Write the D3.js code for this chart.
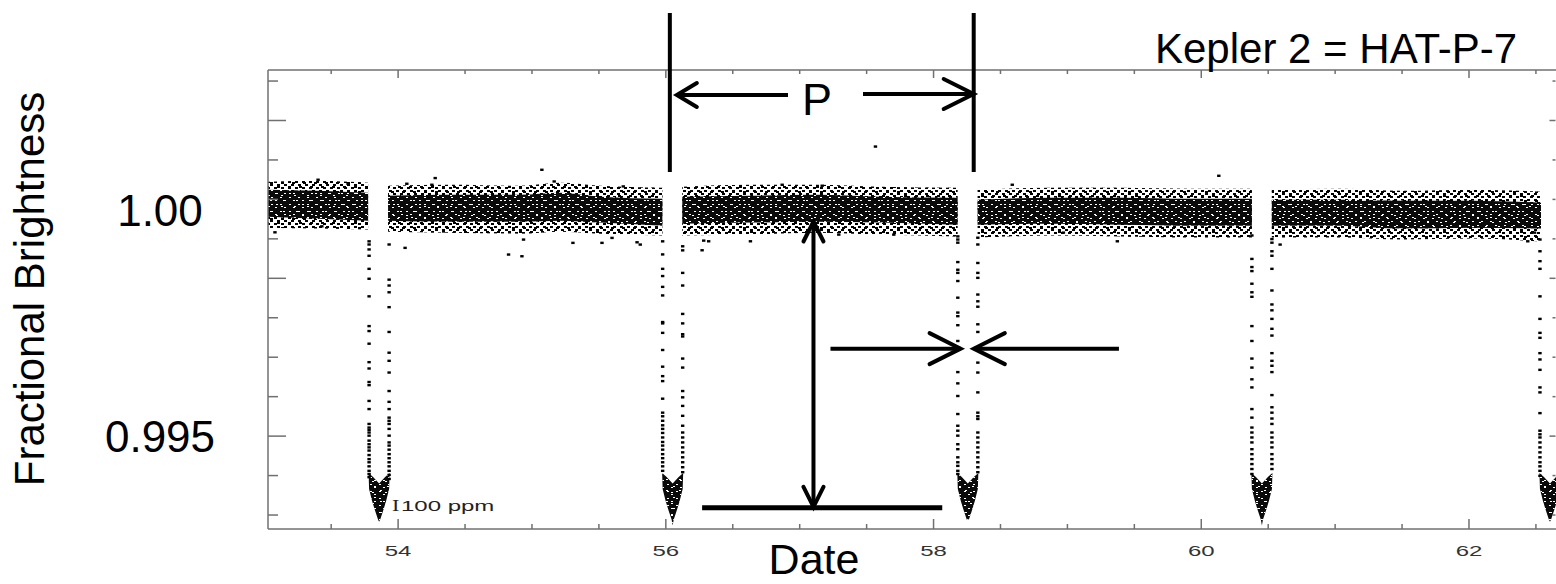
<!DOCTYPE html>
<html>
<head>
<meta charset="utf-8">
<script src="https://cdn.jsdelivr.net/npm/d3@7/dist/d3.min.js"></script>
<style>
  html, body { margin: 0; padding: 0; background: #fff; }
  svg { display: block; font-family: "Liberation Sans", Arial, sans-serif; }
</style>
</head>
<body>
<svg id="chart" width="1556" height="584"></svg>
<script>
// ---- Kepler light curve of HAT-P-7 (dates in days, brightness as relative flux) ----
const xDomain = [53.028, 62.65];
const yDomain = [0.99294, 1.00312];

const dateTicksMajor = [54, 56, 58, 60, 62];
const dateTickLabels = ["54", "56", "58", "60", "62"];
const dateTicksMinor = [53.5, 54.5, 55, 55.5, 56.5, 57, 57.5, 58.5, 59, 59.5, 60.5, 61, 61.5, 62.5];
const fluxTicksMajor = [0.995, 0.9985, 1.002];
const fluxTicksMinor = [0.99325, 0.994125, 0.995875, 0.99675, 0.997625, 0.999375, 1.00025, 1.001125, 1.002875];
const fluxLabelValues = [1.0, 0.995];
const fluxLabels = ["1.00", "0.995"];

// Out-of-transit stretches: envelope of the dense core and of the sparse scatter (ppm relative to 1)
const bandDates = [
  [53.028, 53.40, 53.776],
  [53.925, 54.39, 54.91, 55.21, 55.51, 55.974],
  [56.123, 56.63, 57.12, 57.60, 58.18],
  [58.329, 58.87, 59.40, 59.92, 60.378],
  [60.527, 61.04, 61.50, 62.02, 62.538]
];
const bandCoreTop = [
  [465, 442, 398],
  [332, 354, 354, 398, 310, 265],
  [310, 332, 354, 310, 288],
  [243, 288, 288, 265, 265],
  [243, 243, 221, 221, 177]
];
const bandCoreBottom = [
  [-133, -177, -221],
  [-221, -243, -243, -221, -265, -332],
  [-288, -265, -243, -265, -310],
  [-310, -288, -310, -332, -332],
  [-332, -332, -398, -376, -398]
];
const bandHaloTop = [
  [641, 664, 619],
  [553, 575, 553, 619, 553, 509],
  [531, 575, 575, 531, 509],
  [465, 509, 509, 487, 487],
  [465, 487, 442, 465, 420]
];
const bandHaloBottom = [
  [-376, -398, -420],
  [-465, -487, -509, -465, -509, -553],
  [-553, -531, -487, -531, -575],
  [-597, -553, -575, -597, -597],
  [-597, -597, -641, -619, -686]
];

// Isolated points away from the band: [date, ppm]
const strayPoints = [
  [53.402, 686], [53.626, 597], [53.080, -480], [53.430, -347],
  [54.065, 597], [54.277, 723], [54.252, 575], [55.074, 907], [55.166, 648], [55.682, 538],
  [54.052, -825], [54.825, -973], [54.925, -1011], [54.937, -641], [55.306, -714],
  [55.523, -714], [55.598, -604], [55.785, -701], [55.809, -752],
  [57.566, 1422], [56.869, 575], [57.168, 553], [56.632, -679], [56.283, -664],
  [56.271, -878], [56.320, -679], [57.703, -531], [57.292, -531],
  [58.588, 575], [58.970, -487], [59.373, -679],
  [60.589, -752], [60.131, 774], [62.439, -679], [62.490, -487]
];

// Transits: mid-times, offset of the ingress/egress columns, and the dips (ppm below 1) along them
const transitMid = [53.858, 56.051, 58.256, 60.453, 62.605];
const columnOffset = 0.0748;
const ingressDip = [
  [680, 750, 860, 1000, 1290, 1510, 1900, 2560, 2670, 2950, 3360, 3500, 3800, 3870, 4220, 4400, 4730, 4810, 4860, 4920, 4990, 5100, 5180, 5250, 5320, 5420, 5510, 5580, 5670, 5770, 5840, 5910],
  [680, 970, 1290, 1450, 1690, 1880, 2470, 2500, 2710, 3090, 3460, 3670, 3780, 4170, 4480, 4560, 4660, 4760, 4840, 4930, 5030, 5130, 5210, 5300, 5400, 5490, 5580, 5670, 5770],
  [570, 640, 710, 1140, 1310, 1380, 1560, 1930, 2260, 2340, 2540, 2890, 3580, 3830, 4110, 4510, 4770, 4880, 4990, 5180, 5290, 5470, 5580, 5660, 5770, 5840],
  [550, 1070, 1250, 1340, 1620, 1810, 1910, 2560, 2890, 3280, 3480, 3740, 3920, 4400, 4590, 4810, 4920, 5030, 5140, 5290, 5400, 5510, 5620, 5730, 5840],
  [640, 900, 1120, 1290, 1900, 2400, 2710, 2820, 3160, 3300, 3530, 3920, 4030, 4490, 4880, 4960, 5030, 5140, 5250, 5360, 5470, 5580, 5670, 5770, 5880]
];
const egressDip = [
  [750, 1530, 1660, 1810, 2140, 2690, 3150, 3330, 3590, 4000, 4240, 4400, 4590, 4660, 4730, 4840, 4990, 5140, 5210, 5300, 5400, 5490, 5580, 5670, 5770, 5860, 5950],
  [790, 880, 1380, 1660, 2290, 2500, 2740, 2790, 3280, 3480, 4000, 4140, 4330, 4550, 4770, 4920, 5030, 5140, 5250, 5360, 5470, 5580, 5690, 5800],
  [600, 750, 1160, 1380, 1490, 1860, 2010, 2130, 2520, 2690, 3370, 3590, 4030, 4480, 4560, 4620, 4920, 5030, 5140, 5250, 5360, 5470, 5580, 5690, 5800],
  [630, 710, 900, 1000, 1290, 1770, 2080, 2210, 2400, 2620, 2770, 3160, 3330, 3440, 3580, 4090, 4360, 4480, 4610, 4730, 4920, 5030, 5140, 5250, 5400, 5510, 5620, 5730],
  [4600, 4900, 5200, 5500, 5700]
];
// Crowded transit floor: outline [days from mid-transit, ppm below 1]; the deepest point per transit is separate
const floorOutline = [
  [-0.0785, 5818], [-0.0449, 5906], [0, 6050], [0.0449, 5906], [0.0785, 5818],
  [0.0748, 6171], [0.0523, 6437], [0.0299, 6658], [0.0075, 6857],
  null,
  [-0.0075, 6857], [-0.0299, 6658], [-0.0523, 6437], [-0.0748, 6171]
];
const floorDip = [6900, 6980, 6830, 6980, 6900];

// Annotation anchors (dates / fluxes)
const periodMarks = [56.03, 58.30];
const depthArrowDate = 57.103;
const depthArrowFlux = [0.99976, 0.99343];
const depthBase = { from: 56.271, to: 58.065, flux: 0.99341 };
const widthArrows = { flux: 0.99694, left: [57.230, 58.202], right: [59.385, 58.301] };

// ---- layout ----
const svg = d3.select("#chart");
const plot = { left: 268, right: 1556, top: 70, bottom: 529 };
const x = d3.scaleLinear().domain(xDomain).range([plot.left, plot.right]);
const y = d3.scaleLinear().domain(yDomain).range([plot.bottom, plot.top]);
const fromPpm = p => 1 + p / 1e6;
const fromDip = d => 1 - d / 1e6;

const defs = svg.append("defs");
defs.append("clipPath").attr("id", "plotClip")
  .append("rect")
  .attr("x", plot.left).attr("y", plot.top)
  .attr("width", plot.right - plot.left).attr("height", plot.bottom - plot.top);

// Dot textures for the densely sampled photometry
function dotPattern(id, w, h, dots, color, dw, dh) {
  const p = defs.append("pattern").attr("id", id)
    .attr("patternUnits", "userSpaceOnUse").attr("width", w).attr("height", h);
  dots.forEach(([dx, dy]) => p.append("rect")
    .attr("x", dx).attr("y", dy).attr("width", dw).attr("height", dh).attr("fill", color));
}
// light gaps inside the crowded core
dotPattern("gapA", 9, 7, [[1, 1], [5, 4]], "#fff", 2, 1);
dotPattern("gapB", 13, 11, [[8, 8], [3, 6], [10, 2]], "#fff", 2, 1);
// sparse scatter around the core
dotPattern("haloA", 7, 6, [[1, 1], [4, 4]], "#000", 3, 2);
dotPattern("haloB", 11, 9, [[6, 2], [2, 6]], "#000", 3, 2);

const dataLayer = svg.append("g").attr("clip-path", "url(#plotClip)");

function crowded(d) {
  dataLayer.append("path").attr("d", d).attr("fill", "#0a0a0a");
  ["gapA", "gapB"].forEach(pid =>
    dataLayer.append("path").attr("d", d).attr("fill", `url(#${pid})`));
}

// Out-of-transit band
bandDates.forEach((dates, s) => {
  const rows = dates.map((d, i) => ({
    d,
    ct: bandCoreTop[s][i], cb: bandCoreBottom[s][i],
    ht: bandHaloTop[s][i], hb: bandHaloBottom[s][i]
  }));
  const halo = d3.area().x(r => x(r.d))
    .y0(r => y(fromPpm(r.hb))).y1(r => y(fromPpm(r.ht))).curve(d3.curveMonotoneX);
  const core = d3.area().x(r => x(r.d))
    .y0(r => y(fromPpm(r.cb))).y1(r => y(fromPpm(r.ct))).curve(d3.curveMonotoneX);
  ["haloA", "haloB"].forEach(pid =>
    dataLayer.append("path").attr("d", halo(rows)).attr("fill", `url(#${pid})`));
  crowded(core(rows));
});

// Transit floors
const floorLine = d3.line().x(p => x(p[0])).y(p => y(p[1])).curve(d3.curveLinearClosed);
transitMid.forEach((mid, i) => {
  const pts = floorOutline.map(p => p === null ? [mid, fromDip(floorDip[i])] : [mid + p[0], fromDip(p[1])]);
  crowded(floorLine(pts));
});

// Individual points
const dots = [];
strayPoints.forEach(([d, p]) => dots.push([d, fromPpm(p)]));
transitMid.forEach((mid, i) => {
  ingressDip[i].forEach(v => dots.push([mid - columnOffset, fromDip(v)]));
  egressDip[i].forEach(v => dots.push([mid + columnOffset, fromDip(v)]));
});
dataLayer.selectAll("rect.pt").data(dots).join("rect")
  .attr("class", "pt")
  .attr("x", d => x(d[0]) - 1.7).attr("y", d => y(d[1]) - 1.2)
  .attr("width", 3.4).attr("height", 2.4).attr("fill", "#000");

// ---- frame and ticks ----
const axisColor = "#707070";
const frame = svg.append("g").attr("stroke", axisColor).attr("stroke-width", 1.5).attr("fill", "none");
frame.append("line").attr("x1", plot.left).attr("x2", plot.right).attr("y1", plot.top).attr("y2", plot.top);
frame.append("line").attr("x1", plot.left).attr("x2", plot.right).attr("y1", plot.bottom).attr("y2", plot.bottom);
frame.append("line").attr("x1", plot.left).attr("x2", plot.left).attr("y1", plot.top).attr("y2", plot.bottom);

function hTicks(vals, len, yPos, dir) {
  vals.forEach(v => frame.append("line")
    .attr("x1", x(v)).attr("x2", x(v)).attr("y1", yPos).attr("y2", yPos + dir * len));
}
function vTicks(vals, len, xPos, dir) {
  vals.forEach(v => frame.append("line")
    .attr("y1", y(v)).attr("y2", y(v)).attr("x1", xPos).attr("x2", xPos + dir * len));
}
hTicks(dateTicksMajor, 8, plot.top, 1);
hTicks(dateTicksMinor, 4, plot.top, 1);
hTicks(dateTicksMajor, 10, plot.bottom, -1);
hTicks(dateTicksMinor, 5, plot.bottom, -1);
vTicks(fluxTicksMajor, 18, plot.left, 1);
vTicks(fluxTicksMinor, 10, plot.left, 1);
vTicks(fluxTicksMajor, 6, plot.right - 0.5, -1);
vTicks(fluxTicksMinor, 3, plot.right - 0.5, -1);

// Date tick labels (wide plot lettering)
dateTicksMajor.forEach((v, i) => {
  svg.append("g").attr("transform", `translate(${x(v)},556)`)
    .append("text").attr("transform", "scale(1.6,1)")
    .attr("text-anchor", "middle").attr("font-size", 15).attr("fill", "#333")
    .text(dateTickLabels[i]);
});

// Brightness labels
fluxLabelValues.forEach((v, i) => {
  svg.append("text").attr("x", 160).attr("y", y(v)).attr("dy", "0.35em")
    .attr("text-anchor", "middle").attr("font-size", 44).attr("fill", "#000")
    .text(fluxLabels[i]);
});

// Axis titles
svg.append("text")
  .attr("transform", "translate(44,289) rotate(-90)")
  .attr("text-anchor", "middle").attr("font-size", 42).attr("fill", "#000")
  .text("Fractional Brightness");
svg.append("text").attr("x", 814).attr("y", 574)
  .attr("text-anchor", "middle").attr("font-size", 43).attr("fill", "#000")
  .text("Date");
svg.append("text").attr("x", 1155).attr("y", 63)
  .attr("font-size", 42).attr("fill", "#000")
  .text("Kepler 2 = HAT-P-7");

// Noise scale note
svg.append("g").attr("transform", "translate(392,511)")
  .append("text").attr("transform", "scale(1.3,1)")
  .attr("font-family", "'Liberation Serif', serif").attr("font-size", 17).attr("fill", "#222")
  .text("I");
svg.append("g").attr("transform", "translate(401,511)")
  .append("text").attr("transform", "scale(1.6,1)")
  .attr("font-size", 15).attr("fill", "#222")
  .text("100 ppm");

// ---- annotations ----
const ann = svg.append("g").attr("stroke", "#000").attr("stroke-width", 4).attr("fill", "none");
const head = (tx, ty, ax, ay) => ann.append("path")
  .attr("d", `M${tx + ax},${ty - ay}L${tx},${ty}L${tx + ax},${ty + ay}`)
  .attr("stroke-linecap", "round").attr("stroke-linejoin", "miter");
const headV = (tx, ty, ax, ay) => ann.append("path")
  .attr("d", `M${tx - ax},${ty + ay}L${tx},${ty}L${tx + ax},${ty + ay}`)
  .attr("stroke-linecap", "round").attr("stroke-linejoin", "miter");

// Period markers
periodMarks.forEach(d => ann.append("line")
  .attr("x1", x(d)).attr("x2", x(d)).attr("y1", 13).attr("y2", 172));
const pLeftTip = x(periodMarks[0]) + 7;
ann.append("line").attr("x1", pLeftTip).attr("x2", 788).attr("y1", 95).attr("y2", 95);
head(pLeftTip, 95, 20, 12);
const pRightTip = x(periodMarks[1]);
ann.append("line").attr("x1", 863).attr("x2", pRightTip).attr("y1", 94).attr("y2", 94);
head(pRightTip, 94, -30, 15);
svg.append("text").attr("x", 817).attr("y", 115)
  .attr("text-anchor", "middle").attr("font-size", 45).attr("fill", "#000").text("P");

// Transit depth
const dX = x(depthArrowDate), dTop = y(depthArrowFlux[0]), dBot = y(depthArrowFlux[1]);
ann.append("line").attr("x1", dX).attr("x2", dX).attr("y1", dTop).attr("y2", dBot);
headV(dX, dTop, 10, 20);
headV(dX, dBot, 10, -20);
ann.append("line").attr("stroke-width", 5)
  .attr("x1", x(depthBase.from)).attr("x2", x(depthBase.to))
  .attr("y1", y(depthBase.flux)).attr("y2", y(depthBase.flux));

// Transit duration
const wY = y(widthArrows.flux);
ann.append("line").attr("x1", x(widthArrows.left[0])).attr("x2", x(widthArrows.left[1])).attr("y1", wY).attr("y2", wY);
head(x(widthArrows.left[1]), wY, -31, 15.5);
ann.append("line").attr("x1", x(widthArrows.right[0])).attr("x2", x(widthArrows.right[1])).attr("y1", wY).attr("y2", wY);
head(x(widthArrows.right[1]), wY, 31, 15.5);
</script>
</body>
</html>
